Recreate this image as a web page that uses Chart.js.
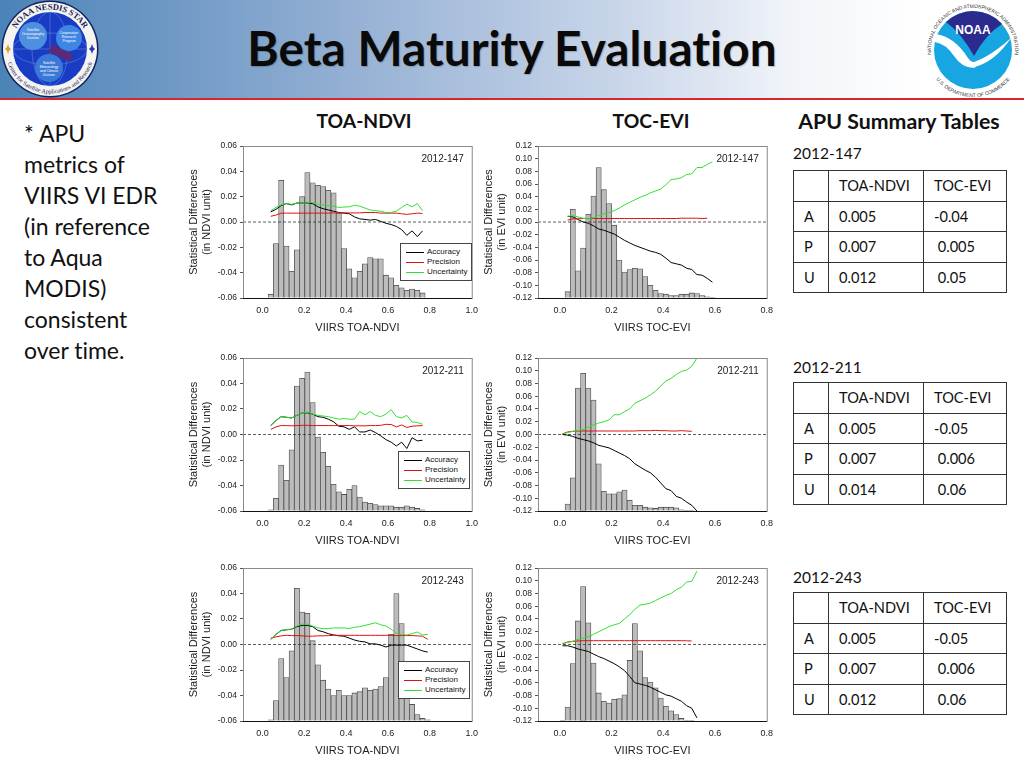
<!DOCTYPE html>
<html>
<head>
<meta charset="utf-8">
<title>Beta Maturity Evaluation</title>
<script src="https://cdn.jsdelivr.net/npm/chart.js@4/dist/chart.umd.min.js"></script>
<style>
html, body { margin: 0; padding: 0; background: #fff; }
#slide { position: relative; width: 1024px; height: 768px; overflow: hidden; font-family: Lato, sans-serif; color: #111; font-variant-ligatures: none; }
#band { position: absolute; left: 0; top: 0; width: 1024px; height: 98px; background: linear-gradient(90deg, #4a83b7 0, #93afd3 340px, #c9d6e9 620px, #f3f5fa 800px, #fff 925px); }
#rule { position: absolute; left: 0; top: 98px; width: 1024px; height: 2px; background: #d8262c; }
#title { position: absolute; left: 0; top: 20px; width: 1024px; text-align: center; font-size: 47.8px; line-height: 56px; font-weight: 700; color: #0a0a0a; text-shadow: 1px 1px 1px rgba(0,0,0,.2); }
#notes { position: absolute; left: 24px; top: 118px; width: 155px; font-size: 23px; line-height: 31px; }
.head { position: absolute; top: 110px; font-size: 19.3px; line-height: 22px; font-weight: 700; transform: translateX(-50%); white-space: nowrap; }
canvas { position: absolute; }
.legend { position: absolute; width: 72px; height: 38px; background: #fff; border: 1px solid #444; font: 8px "Liberation Sans", sans-serif; box-sizing: border-box; padding-top: 3px; }
.legend div { height: 10px; line-height: 10px; padding-left: 26px; position: relative; white-space: nowrap; }
.legend i { position: absolute; left: 5px; top: 5px; width: 18px; height: 1px; }
.yearlabel { position: absolute; font-size: 15.5px; line-height: 18px; }
table.apu { position: absolute; left: 793px; width: 213px; border-collapse: collapse; table-layout: fixed; font-size: 14.6px; }
table.apu td { border: 1px solid #333; height: 30.6px; padding: 0 0 0 10px; box-sizing: border-box; }
.logo { position: absolute; top: 0; }
</style>
</head>
<body>
<div id="slide">
  <div id="band"></div>
  <div id="rule"></div>
  <svg class="logo" style="left:0" width="100" height="98" viewBox="0 0 100 98">
    <defs>
      <path id="sealTop" d="M 10.5 49 A 39.5 39.5 0 0 1 89.5 49"/>
      <path id="sealBot" d="M 5.5 49 A 44.5 44.5 0 0 0 94.5 49"/>
    </defs>
    <circle cx="50" cy="49" r="48.5" fill="#14205e"/>
    <circle cx="50" cy="49" r="47" fill="#f4f4f0"/>
    <circle cx="50" cy="49" r="37" fill="#1a3cc4"/>
    <g fill="none" stroke="#7fa8ee" stroke-width=".4">
      <ellipse cx="50" cy="49" rx="18" ry="37"/>
      <ellipse cx="50" cy="49" rx="37" ry="16"/>
      <line x1="13" y1="49" x2="87" y2="49"/>
      <line x1="50" y1="12" x2="50" y2="86"/>
    </g>
    <circle cx="33" cy="36" r="14" fill="#4f8fe0"/>
    <circle cx="69" cy="38" r="13" fill="#3f86e4"/>
    <circle cx="49" cy="68" r="14" fill="#3a78d8"/>
    <rect x="50" y="44" width="24" height="8" transform="rotate(25 50 48)" fill="#5b2a78"/>
    <g font-family="Liberation Sans" font-size="3.4" fill="#fff" text-anchor="middle">
      <text x="33" y="31">Satellite</text><text x="33" y="35">Oceanography</text><text x="33" y="39">Division</text>
      <text x="69" y="34">Cooperative</text><text x="69" y="38">Research</text><text x="69" y="42">Program</text>
      <text x="49" y="64">Satellite</text><text x="49" y="68">Meteorology</text><text x="49" y="72">and Climate</text><text x="49" y="76">Division</text>
    </g>
    <text font-family="Liberation Serif" font-weight="700" font-size="8.5" fill="#15205a"><textPath href="#sealTop" startOffset="50%" text-anchor="middle">NOAA NESDIS STAR</textPath></text>
    <text font-family="Liberation Serif" font-size="6" fill="#15205a"><textPath href="#sealBot" startOffset="50%" text-anchor="middle">Center for Satellite Applications and Research</textPath></text>
    <polygon points="5,49 7,47 8,44 9,47 11,49 9,51 8,54 7,51" fill="#d8a038"/>
    <polygon points="89,49 91,47 92,44 93,47 95,49 93,51 92,54 91,51" fill="#2a3aa8"/>
  </svg>
  <svg class="logo" style="left:924px;background:#fff" width="100" height="98" viewBox="0 0 100 98">
    <defs>
      <path id="noaaTop" d="M 8.8 62 A 42 42 0 1 1 89.2 62"/>
      <path id="noaaBot" d="M 4.1 64 A 47 47 0 0 0 93.9 64"/>
    </defs>
    <circle cx="49" cy="50" r="39" fill="#18a6e2"/>
    <path d="M 22 22 A 39 39 0 0 1 78 24 Q 62 34 50 56 Q 38 34 22 22 Z" fill="#2a2b8c"/>
    <path d="M 11 34 Q 30 36 44 58 Q 49 66 63 60 L 50 68 Q 38 68 30 56 Q 22 44 11 42 Z" fill="#fff"/>
    <path d="M 41 64 Q 60 62 87 38 Q 72 60 54 66 Z" fill="#fff"/>
    <text x="49" y="34" text-anchor="middle" font-family="Liberation Sans" font-weight="700" font-size="12" fill="#fff">NOAA</text>
    <text font-family="Liberation Sans" font-size="5" fill="#333"><textPath href="#noaaTop" startOffset="50%" text-anchor="middle">NATIONAL OCEANIC AND ATMOSPHERIC ADMINISTRATION</textPath></text>
    <text font-family="Liberation Sans" font-size="5" fill="#333"><textPath href="#noaaBot" startOffset="50%" text-anchor="middle">U.S. DEPARTMENT OF COMMERCE</textPath></text>
  </svg>
  <div id="title">Beta Maturity Evaluation</div>
  <div id="notes">* APU<br>metrics of<br>VIIRS VI EDR<br>(in reference<br>to Aqua<br>MODIS)<br>consistent<br>over time.</div>
  <div class="head" style="left:364px">TOA-NDVI</div>
  <div class="head" style="left:651px">TOC-EVI</div>
  <div class="head" style="left:899px;font-size:21.3px">APU Summary Tables</div>
</div>

<script>
const seriesNames = ['Accuracy', 'Precision', 'Uncertainty'];
const seriesColors = ['#000000', '#e01010', '#30e030'];

const ndviBins = [0.04, 0.065, 0.09, 0.115, 0.14, 0.165, 0.19, 0.215, 0.24, 0.265,
    0.29, 0.315, 0.34, 0.365, 0.39, 0.415, 0.44, 0.465, 0.49, 0.515,
    0.54, 0.565, 0.59, 0.615, 0.64, 0.665, 0.69, 0.715, 0.74, 0.765, 0.79];
const eviBins = [0.01, 0.03, 0.05, 0.07, 0.09, 0.11, 0.13, 0.15, 0.17, 0.19,
    0.21, 0.23, 0.25, 0.27, 0.29, 0.31, 0.33, 0.35, 0.37, 0.39,
    0.41, 0.43, 0.45, 0.47, 0.49, 0.51, 0.53, 0.55, 0.57, 0.59];

const ndviXTicks = [0, 0.2, 0.4, 0.6, 0.8, 1.0];
const eviXTicks = [0, 0.2, 0.4, 0.6, 0.8];
const ndviYTicks = [-0.06, -0.04, -0.02, 0, 0.02, 0.04, 0.06];
const eviYTicks = [-0.12, -0.10, -0.08, -0.06, -0.04, -0.02, 0, 0.02, 0.04, 0.06, 0.08, 0.10, 0.12];

// 2012-147 NDVI
const hist147n = [-0.057, -0.017, 0.033, -0.019, -0.039, -0.022, 0.020, 0.039, 0.031, 0.029,
    0.028, 0.025, 0.023, 0.007, -0.021, -0.037, -0.044, -0.039, -0.033, -0.028,
    -0.029, -0.029, -0.042, -0.044, -0.050, -0.052, -0.054, -0.053, -0.054, -0.056];
const acc147n = [0.008, 0.010, 0.013, 0.0145, 0.0135, 0.015, 0.015, 0.015, 0.0145, 0.012,
    0.0105, 0.0095, 0.0085, 0.0075, 0.007, 0.0065, 0.004, 0.0025, 0.002, 0.0015,
    0.002, 0.0005, -0.001, -0.002, -0.0035, -0.006, -0.0105, -0.007, -0.0115, -0.007];
const pre147n = [0.0045, 0.0055, 0.007, 0.007, 0.007, 0.007, 0.007, 0.007, 0.007, 0.007,
    0.007, 0.007, 0.0072, 0.0072, 0.0072, 0.0072, 0.0072, 0.0072, 0.0075, 0.0075,
    0.0075, 0.007, 0.007, 0.007, 0.007, 0.0065, 0.006, 0.0065, 0.007, 0.0068];
const unc147n = [0.009, 0.0115, 0.0135, 0.0145, 0.014, 0.015, 0.015, 0.015, 0.0155, 0.014,
    0.0135, 0.013, 0.0125, 0.0115, 0.0118, 0.012, 0.0132, 0.0125, 0.011, 0.0095,
    0.009, 0.0085, 0.0075, 0.0075, 0.0085, 0.0115, 0.014, 0.012, 0.0145, 0.009];

// 2012-147 EVI
const hist147e = [null, -0.110, 0.020, -0.077, -0.041, 0.012, 0.041, 0.086, 0.051, 0.029,
    -0.005, -0.060, -0.079, -0.075, -0.073, -0.074, -0.086, -0.100, -0.108, -0.113,
    -0.114, -0.116, -0.116, -0.114, -0.114, -0.112, -0.113, -0.116, -0.118, -0.119];
const acc147e = [null, 0.009, 0.008, 0.004, 0.0, -0.002, -0.006, -0.011, -0.013, -0.016,
    -0.019, -0.024, -0.029, -0.033, -0.037, -0.040, -0.043, -0.046, -0.048, -0.051,
    -0.057, -0.064, -0.066, -0.068, -0.073, -0.075, -0.083, -0.084, -0.089, -0.095];
const pre147e = [null, 0.003, 0.005, 0.005, 0.0055, 0.0055, 0.0055, 0.0055, 0.0055, 0.0055,
    0.0055, 0.0055, 0.0055, 0.0055, 0.0055, 0.0055, 0.0055, 0.0055, 0.0055, 0.0055,
    0.0055, 0.0055, 0.0055, 0.006, 0.006, 0.006, 0.006, 0.0055, 0.006];
const unc147e = [null, 0.009, 0.010, 0.008, 0.006, 0.005, 0.007, 0.010, 0.013, 0.015,
    0.018, 0.022, 0.027, 0.031, 0.035, 0.039, 0.042, 0.046, 0.049, 0.052,
    0.059, 0.067, 0.068, 0.070, 0.075, 0.076, 0.086, 0.086, 0.091, 0.095];

// 2012-211 NDVI
const hist211n = [-0.059, -0.050, -0.024, -0.036, -0.012, 0.038, 0.044, 0.049, 0.025, -0.002,
    -0.014, -0.025, -0.039, -0.045, -0.047, -0.043, -0.040, -0.049, -0.053, -0.054,
    -0.055, -0.056, -0.056, -0.056, -0.057, -0.057, -0.056, -0.057, -0.058, -0.059];
const acc211n = [0.007, 0.011, 0.014, 0.0135, 0.013, 0.015, 0.017, 0.017, 0.016, 0.014,
    0.0135, 0.012, 0.010, 0.0065, 0.006, 0.004, 0.006, 0.002, 0.002, 0.0035,
    0.0015, -0.001, -0.004, -0.006, -0.009, -0.006, -0.011, -0.0025, -0.005, -0.0045];
const pre211n = [0.004, 0.006, 0.007, 0.007, 0.0068, 0.007, 0.0072, 0.0072, 0.007, 0.007,
    0.007, 0.007, 0.007, 0.007, 0.007, 0.007, 0.0068, 0.0068, 0.0068, 0.007,
    0.007, 0.0072, 0.008, 0.0078, 0.006, 0.0075, 0.0055, 0.0065, 0.0068, 0.007];
const unc211n = [0.007, 0.011, 0.014, 0.0135, 0.013, 0.015, 0.017, 0.0175, 0.016, 0.015,
    0.0145, 0.014, 0.013, 0.012, 0.0125, 0.012, 0.012, 0.018, 0.0155, 0.018,
    0.015, 0.014, 0.016, 0.0195, 0.014, 0.013, 0.015, 0.0098, 0.0095, 0.008];

// 2012-211 EVI
const hist211e = [null, -0.109, -0.068, 0.073, 0.096, 0.073, 0.054, -0.046, -0.089, -0.093,
    -0.093, -0.090, -0.087, -0.103, -0.111, -0.111, -0.114, -0.115, -0.116, -0.114,
    -0.114, -0.114, -0.115, -0.118, -0.119, -0.119];
const acc211e = [0.0, -0.001, -0.003, -0.006, -0.008, -0.010, -0.013, -0.017, -0.019, -0.021,
    -0.025, -0.029, -0.033, -0.038, -0.046, -0.051, -0.056, -0.060, -0.067, -0.076,
    -0.085, -0.088, -0.097, -0.100, -0.106, -0.111, -0.120];
const pre211e = [0.001, 0.004, 0.005, 0.0055, 0.0055, 0.0055, 0.0055, 0.0055, 0.0055, 0.0055,
    0.0055, 0.0055, 0.0055, 0.0055, 0.0055, 0.006, 0.006, 0.006, 0.0065, 0.006,
    0.006, 0.0055, 0.0055, 0.006, 0.0055, 0.005];
const unc211e = [0.001, 0.003, 0.005, 0.006, 0.008, 0.011, 0.015, 0.018, 0.020, 0.023,
    0.031, 0.031, 0.036, 0.040, 0.049, 0.053, 0.057, 0.062, 0.068, 0.076,
    0.084, 0.088, 0.094, 0.099, 0.101, 0.107, 0.120];

// 2012-243 NDVI
const hist243n = [-0.059, -0.044, -0.011, -0.026, -0.005, 0.044, 0.0255, 0.0245, 0.003, -0.016,
    -0.028, -0.035, -0.040, -0.036, -0.040, -0.040, -0.038, -0.037, -0.034, -0.036,
    -0.035, -0.033, -0.026, 0.008, 0.040, 0.0165, -0.030, -0.047, -0.055, -0.058, -0.059];
const acc243n = [0.004, 0.008, 0.011, 0.0115, 0.012, 0.014, 0.015, 0.015, 0.014, 0.011,
    0.010, 0.0085, 0.0075, 0.0068, 0.0065, 0.005, 0.0035, 0.0025, 0.002, 0.0005,
    0.0005, -0.0005, -0.002, -0.0005, -0.0005, -0.0005, -0.0005, -0.002, -0.0035, -0.005, -0.006];
const pre243n = [0.005, 0.006, 0.0068, 0.0072, 0.007, 0.007, 0.0068, 0.0065, 0.0065, 0.0068,
    0.0068, 0.007, 0.0072, 0.0072, 0.0072, 0.0072, 0.0072, 0.0072, 0.0072, 0.0072,
    0.0072, 0.0072, 0.0072, 0.0072, 0.007, 0.007, 0.007, 0.007, 0.0068, 0.0065, 0.004];
const unc243n = [0.004, 0.008, 0.011, 0.0118, 0.012, 0.0145, 0.016, 0.016, 0.0145, 0.013,
    0.0125, 0.0125, 0.013, 0.013, 0.013, 0.0125, 0.0135, 0.014, 0.015, 0.016,
    0.017, 0.0155, 0.0145, 0.012, 0.0085, 0.0078, 0.0075, 0.0085, 0.0098, 0.0075, 0.008];

// 2012-243 EVI
const hist243e = [-0.119, -0.098, -0.030, 0.037, 0.091, 0.034, -0.029, -0.076, -0.089, -0.092,
    -0.086, -0.085, -0.079, -0.025, 0.033, -0.010, -0.052, -0.059, -0.068, -0.084,
    -0.097, -0.104, -0.110, -0.116, -0.119, -0.119];
const acc243e = [-0.002, -0.002, -0.004, -0.007, -0.009, -0.011, -0.015, -0.019, -0.022, -0.026,
    -0.030, -0.035, -0.041, -0.050, -0.060, -0.062, -0.064, -0.067, -0.071, -0.075,
    -0.079, -0.081, -0.085, -0.089, -0.096, -0.100, -0.115];
const pre243e = [0.001, 0.004, 0.005, 0.0055, 0.006, 0.006, 0.006, 0.006, 0.006, 0.006,
    0.006, 0.006, 0.006, 0.006, 0.006, 0.006, 0.006, 0.006, 0.006, 0.006,
    0.006, 0.006, 0.006, 0.006, 0.0058, 0.0055];
const unc243e = [0.002, 0.003, 0.005, 0.008, 0.010, 0.012, 0.016, 0.020, 0.024, 0.028,
    0.031, 0.033, 0.040, 0.047, 0.055, 0.062, 0.063, 0.065, 0.069, 0.073,
    0.077, 0.080, 0.086, 0.090, 0.098, 0.099, 0.115];

// APU summary tables
const apuRows = ['A', 'P', 'U'];
const apuColumns = ['TOA-NDVI', 'TOC-EVI'];
const apu147 = [['0.005', '-0.04'], ['0.007', '\u00a00.005'], ['0.012', '\u00a00.05']];
const apu211 = [['0.005', '-0.05'], ['0.007', '\u00a00.006'], ['0.014', '\u00a00.06']];
const apu243 = [['0.005', '-0.05'], ['0.007', '\u00a00.006'], ['0.012', '\u00a00.06']];

const slide = document.getElementById('slide');

// grey box round the plot, black bottom edge, and the date in the corner
const framePlugin = {
    id: 'frame',
    afterDatasetsDraw(chart, args, opts) {
        const a = chart.chartArea, ctx = chart.ctx;
        ctx.save();
        ctx.strokeStyle = '#8a8a8a';
        ctx.lineWidth = 1;
        ctx.strokeRect(a.left + .5, a.top + .5, a.width, a.height);
        ctx.strokeStyle = '#111';
        ctx.beginPath();
        ctx.moveTo(a.left, a.bottom + .5);
        ctx.lineTo(a.right, a.bottom + .5);
        ctx.stroke();
        ctx.fillStyle = '#222';
        ctx.font = '10px "Liberation Sans"';
        ctx.textAlign = 'right';
        ctx.textBaseline = 'middle';
        ctx.fillText(opts.date, a.right - 8, a.top + 13);
        ctx.restore();
    }
};

function toPoints(xs, ys) {
    return ys.map((y, i) => ({ x: xs[i], y: y }));
}

function makePanel(cfg) {
    const canvas = document.createElement('canvas');
    canvas.width = 305;
    canvas.height = cfg.plotH + 52;
    canvas.style.left = (cfg.plotL - 63) + 'px';
    canvas.style.top = (cfg.plotT - 10) + 'px';
    slide.appendChild(canvas);

    const yMin = cfg.yTicks[0], yMax = cfg.yTicks[cfg.yTicks.length - 1];
    const datasets = [{
        type: 'bar',
        data: toPoints(cfg.bins, cfg.hist),
        base: yMin,
        backgroundColor: '#bcbcbc',
        borderColor: '#505050',
        borderWidth: 0.8,
        barPercentage: 1,
        categoryPercentage: 1,
        grouped: false,
        order: 5
    }, {
        type: 'line',
        data: [{ x: cfg.xMin, y: 0 }, { x: cfg.xMax, y: 0 }],
        borderColor: '#333',
        borderWidth: 0.8,
        borderDash: [3, 2],
        pointRadius: 0,
        order: 4
    }];
    cfg.lines.forEach((vals, i) => {
        datasets.push({
            type: 'line',
            label: seriesNames[i],
            data: toPoints(cfg.bins, vals),
            borderColor: seriesColors[i],
            borderWidth: 1,
            pointRadius: 0,
            tension: 0,
            order: 3 - i
        });
    });

    new Chart(canvas, {
        data: { datasets: datasets },
        plugins: [framePlugin],
        options: {
            responsive: false,
            animation: false,
            devicePixelRatio: 1,
            layout: { autoPadding: false, padding: { top: 10, right: 12, left: 0, bottom: 0 } },
            plugins: { legend: { display: false }, tooltip: { enabled: false }, frame: { date: cfg.date } },
            scales: {
                x: {
                    type: 'linear',
                    offset: false,
                    min: cfg.xMin,
                    max: cfg.xMax,
                    afterFit: s => { s.height = 42; },
                    afterBuildTicks: s => { s.ticks = cfg.xTicks.map(v => ({ value: v })); },
                    grid: { display: false, drawTicks: false, offset: false },
                    border: { display: false },
                    ticks: {
                        font: { family: 'Liberation Sans', size: 9 }, color: '#222', padding: 7,
                        maxRotation: 0, autoSkip: false,
                        callback: v => v.toFixed(1)
                    },
                    title: {
                        display: true, text: cfg.xTitle, color: '#222',
                        font: { family: 'Liberation Sans', size: 11 },
                        padding: { top: 0, bottom: 5 }
                    }
                },
                y: {
                    min: yMin,
                    max: yMax,
                    afterFit: s => { s.width = 63; },
                    afterBuildTicks: s => { s.ticks = cfg.yTicks.map(v => ({ value: v })); },
                    grid: { drawOnChartArea: false, tickLength: 3, color: '#555' },
                    border: { display: false },
                    ticks: {
                        font: { family: 'Liberation Sans', size: 8.5 }, color: '#222', padding: 3,
                        autoSkip: false,
                        callback: v => v.toFixed(2)
                    },
                    title: {
                        display: true, text: ['Statistical Differences', cfg.yUnit], color: '#222',
                        font: { family: 'Liberation Sans', size: 11 },
                        padding: { top: 7, bottom: 0 }
                    }
                }
            }
        }
    });
}

function makeLegend(left, top) {
    const box = document.createElement('div');
    box.className = 'legend';
    box.style.left = left + 'px';
    box.style.top = top + 'px';
    seriesNames.forEach((name, i) => {
        const row = document.createElement('div');
        row.textContent = name;
        const swatch = document.createElement('i');
        swatch.style.background = seriesColors[i];
        row.appendChild(swatch);
        box.appendChild(row);
    });
    slide.appendChild(box);
}

function makeTable(date, labelTop, tableTop, vals) {
    const label = document.createElement('div');
    label.className = 'yearlabel';
    label.style.left = '793px';
    label.style.top = labelTop + 'px';
    label.textContent = date;
    slide.appendChild(label);

    let html = '<colgroup><col style="width:35px"><col style="width:95px"><col style="width:83px"></colgroup>';
    html += '<tr><td></td><td>' + apuColumns[0] + '</td><td>' + apuColumns[1] + '</td></tr>';
    apuRows.forEach((r, i) => {
        html += '<tr><td>' + r + '</td><td>' + vals[i][0] + '</td><td>' + vals[i][1] + '</td></tr>';
    });
    const t = document.createElement('table');
    t.className = 'apu';
    t.style.top = tableTop + 'px';
    t.innerHTML = html;
    slide.appendChild(t);
}

const ndvi = { plotL: 243, xMin: -0.0926, xMax: 1.0, xTicks: ndviXTicks, yTicks: ndviYTicks, bins: ndviBins, xTitle: 'VIIRS TOA-NDVI', yUnit: '(in NDVI unit)' };
const evi = { plotL: 538, xMin: -0.0846, xMax: 0.8, xTicks: eviXTicks, yTicks: eviYTicks, bins: eviBins, xTitle: 'VIIRS TOC-EVI', yUnit: '(in EVI unit)' };

makePanel({ ...ndvi, plotT: 146, plotH: 152, date: '2012-147', hist: hist147n, lines: [acc147n, pre147n, unc147n] });
makePanel({ ...evi, plotT: 146, plotH: 152, date: '2012-147', hist: hist147e, lines: [acc147e, pre147e, unc147e] });
makePanel({ ...ndvi, plotT: 358, plotH: 153, date: '2012-211', hist: hist211n, lines: [acc211n, pre211n, unc211n] });
makePanel({ ...evi, plotT: 358, plotH: 153, date: '2012-211', hist: hist211e, lines: [acc211e, pre211e, unc211e] });
makePanel({ ...ndvi, plotT: 568, plotH: 153, date: '2012-243', hist: hist243n, lines: [acc243n, pre243n, unc243n] });
makePanel({ ...evi, plotT: 568, plotH: 153, date: '2012-243', hist: hist243e, lines: [acc243e, pre243e, unc243e] });

makeLegend(400, 243);
makeLegend(398, 451);
makeLegend(398, 661);

makeTable('2012-147', 144, 170, apu147);
makeTable('2012-211', 358, 382, apu211);
makeTable('2012-243', 568, 592, apu243);
</script>
</body>
</html>
